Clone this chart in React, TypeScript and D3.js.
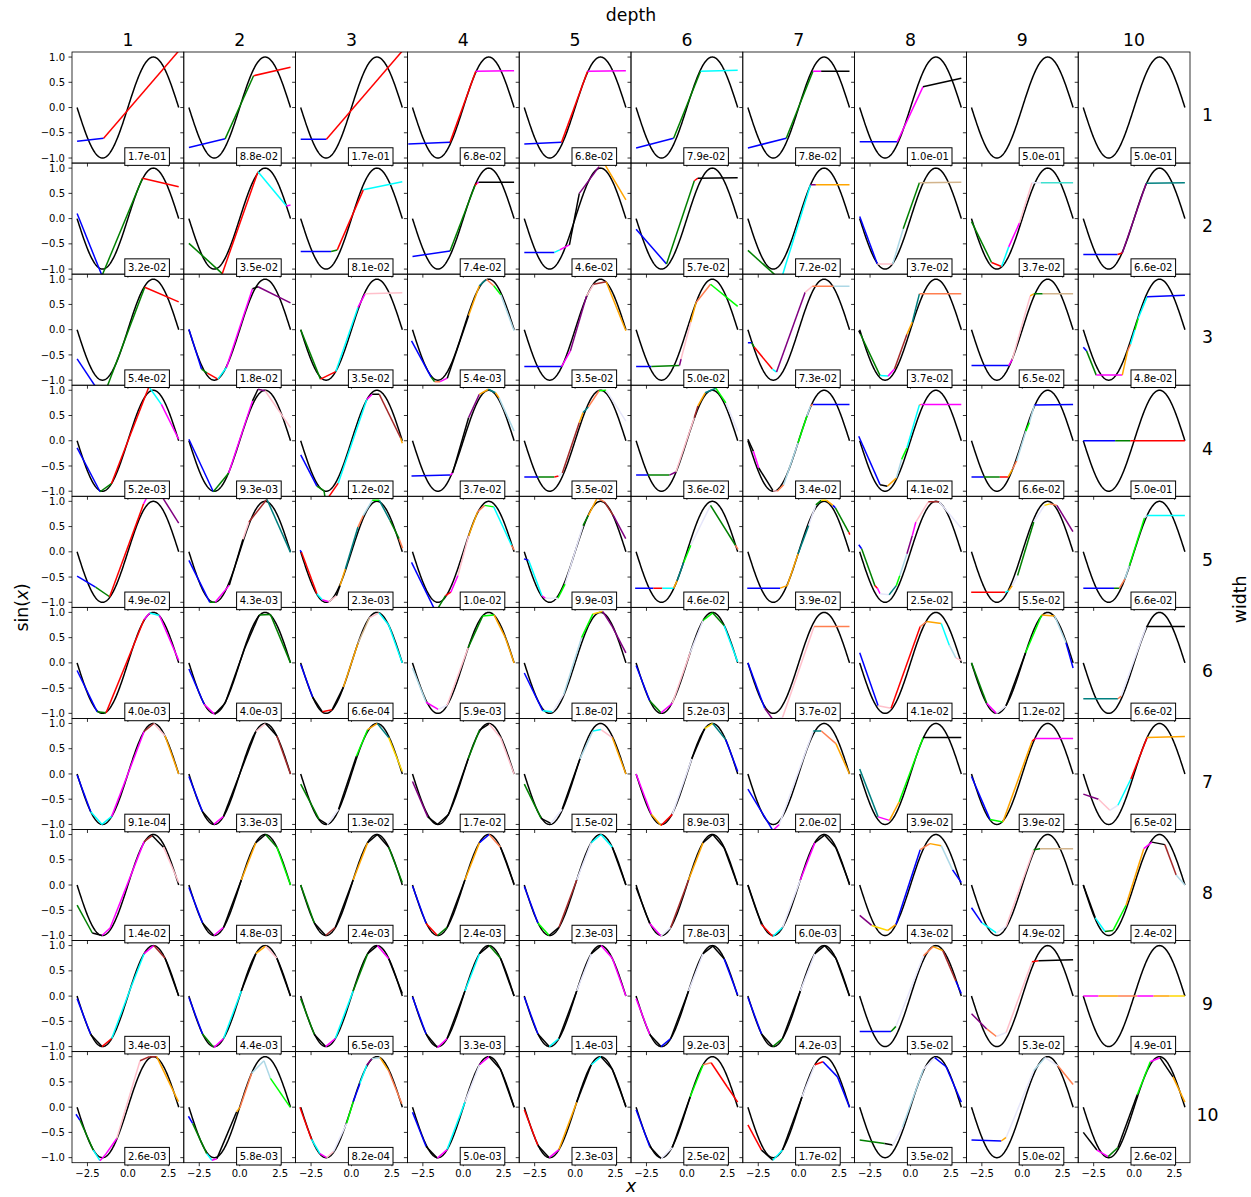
import React from 'react';
import * as d3 from 'd3';

// [segment colour codes, knots [x, y]] for one fitted network
type Fit = [string, number[][]];

const depthLabels = ['1', '2', '3', '4', '5', '6', '7', '8', '9', '10'];
const widthLabels = ['1', '2', '3', '4', '5', '6', '7', '8', '9', '10'];
const yTicks = [-1, -0.5, 0, 0.5, 1];
const xTicks = [-2.5, 0, 2.5];

// loss per cell, rows = width, columns = depth
const losses = [
  ['1.7e-01', '8.8e-02', '1.7e-01', '6.8e-02', '6.8e-02', '7.9e-02', '7.8e-02', '1.0e-01', '5.0e-01', '5.0e-01'],
  ['3.2e-02', '3.5e-02', '8.1e-02', '7.4e-02', '4.6e-02', '5.7e-02', '7.2e-02', '3.7e-02', '3.7e-02', '6.6e-02'],
  ['5.4e-02', '1.8e-02', '3.5e-02', '5.4e-03', '3.5e-02', '5.0e-02', '7.3e-02', '3.7e-02', '6.5e-02', '4.8e-02'],
  ['5.2e-03', '9.3e-03', '1.2e-02', '3.7e-02', '3.5e-02', '3.6e-02', '3.4e-02', '4.1e-02', '6.6e-02', '5.0e-01'],
  ['4.9e-02', '4.3e-03', '2.3e-03', '1.0e-02', '9.9e-03', '4.6e-02', '3.9e-02', '2.5e-02', '5.5e-02', '6.6e-02'],
  ['4.0e-03', '4.0e-03', '6.6e-04', '5.9e-03', '1.8e-02', '5.2e-03', '3.7e-02', '4.1e-02', '1.2e-02', '6.6e-02'],
  ['9.1e-04', '3.3e-03', '1.3e-02', '1.7e-02', '1.5e-02', '8.9e-03', '2.0e-02', '3.9e-02', '3.9e-02', '6.5e-02'],
  ['1.4e-02', '4.8e-03', '2.4e-03', '2.4e-03', '2.3e-03', '7.8e-03', '6.0e-03', '4.3e-02', '4.9e-02', '2.4e-02'],
  ['3.4e-03', '4.4e-03', '6.5e-03', '3.3e-03', '1.4e-03', '9.2e-03', '4.2e-03', '3.5e-02', '5.3e-02', '4.9e-01'],
  ['2.6e-03', '5.8e-03', '8.2e-04', '5.0e-03', '2.3e-03', '2.5e-02', '1.7e-02', '3.5e-02', '5.0e-02', '2.6e-02'],
];

const fitsW1: Fit[] = [
  ['br', [[-3.14, -0.67], [-1.5, -0.61], [3.14, 1.12]]],
  ['bgr', [[-3.14, -0.79], [-0.9, -0.62], [0.86, 0.63], [3.14, 0.8]]],
  ['br', [[-3.14, -0.63], [-1.55, -0.63], [3.14, 1.12]]],
  ['brm', [[-3.4, -0.72], [-0.82, -0.69], [0.77, 0.72], [3.14, 0.73]]],
  ['brm', [[-3.14, -0.72], [-0.84, -0.69], [0.77, 0.72], [3.14, 0.73]]],
  ['bgc', [[-3.14, -0.8], [-0.82, -0.61], [0.84, 0.72], [3.14, 0.74]]],
  ['bgmk', [[-3.14, -0.8], [-0.77, -0.61], [0.88, 0.72], [1.39, 0.72], [3.14, 0.72]]],
  ['bmk', [[-3.14, -0.68], [-0.82, -0.68], [0.77, 0.41], [3.14, 0.58]]],
  ['', []],
  ['', []],
];

const fitsW2: Fit[] = [
  ['bgr', [[-3.14, 0.1], [-1.6, -1.13], [0.9, 0.8], [3.14, 0.63]]],
  ['grcm', [[-3.14, -0.49], [-1.08, -1.09], [1.13, 0.93], [2.89, 0.25], [3.14, 0.27]]],
  ['bgrc', [[-3.14, -0.65], [-1.26, -0.65], [-0.88, -0.62], [0.73, 0.57], [3.14, 0.73]]],
  ['bgrmk', [[-3.14, -0.75], [-0.82, -0.64], [0.73, 0.66], [0.85, 0.7], [0.95, 0.72], [3.14, 0.72]]],
  ['bcmkupo', [[-3.14, -0.67], [-1.28, -0.67], [-0.95, -0.62], [-0.35, -0.52], [0.26, 0.5], [1.48, 1.03], [1.75, 1.12], [3.14, 0.37]]],
  ['bgrk', [[-3.14, -0.21], [-1.26, -0.9], [0.46, 0.75], [0.68, 0.8], [3.14, 0.81]]],
  ['gcuo', [[-3.14, -0.63], [-1.1, -1.22], [0.73, 0.67], [1.06, 0.67], [3.14, 0.67]]],
  ['bpagt', [[-3.14, 0.04], [-2.05, -0.9], [-1.1, -0.9], [-0.45, -0.2], [0.55, 0.71], [3.14, 0.72]]],
  ['grcmpvd', [[-3.14, -0.06], [-1.9, -0.87], [-1.28, -0.95], [-0.84, -0.56], [-0.18, -0.09], [0.6, 0.71], [1.15, 0.71], [3.14, 0.71]]],
  ['brue', [[-3.14, -0.71], [-1.02, -0.71], [-0.73, -0.68], [0.75, 0.7], [3.14, 0.71]]],
];

const fitsW3: Fit[] = [
  ['bgr', [[-3.14, -0.58], [-1.54, -1.35], [1.04, 0.84], [3.14, 0.55]]],
  ['bgrcmku', [[-3.14, 0.01], [-2.36, -0.78], [-2.0, -0.86], [-1.35, -0.98], [-0.82, -0.75], [0.79, 0.81], [1.13, 0.85], [3.14, 0.53]]],
  ['grcmp', [[-3.14, 0], [-1.92, -0.98], [-0.97, -0.83], [0.4, 0.44], [0.84, 0.71], [3.14, 0.73]]],
  ['bgsmkoesla', [[-3.2, -0.22], [-1.99, -0.94], [-1.77, -1.03], [-1.43, -1.03], [-0.99, -0.96], [0.33, 0.28], [0.99, 0.87], [1.43, 1.0], [1.88, 0.87], [2.32, 0.69], [3.14, -0.02]]],
  ['bmupno', [[-3.14, -0.73], [-0.84, -0.73], [-0.29, -0.42], [0.71, 0.67], [1.15, 0.9], [1.92, 0.95], [3.14, -0.02]]],
  ['bguposl', [[-3.14, -0.73], [-2.2, -0.73], [-0.46, -0.71], [-0.36, -0.58], [0.24, 0.15], [0.57, 0.54], [1.46, 0.9], [3.14, 0.46]]],
  ['bgrcupsa', [[-3.14, -0.26], [-2.91, -0.26], [-2.74, -0.35], [-1.63, -0.78], [-1.37, -0.84], [0.4, 0.74], [0.84, 0.86], [2.16, 0.86], [3.14, 0.86]]],
  ['kgcmnoes', [[-3.2, -0.02], [-3.09, -0.09], [-1.88, -0.91], [-1.39, -0.92], [-0.99, -0.78], [-0.22, -0.09], [0.11, 0.15], [0.55, 0.71], [3.14, 0.71]]],
  ['bmpogt', [[-3.14, -0.71], [-0.84, -0.71], [-0.62, -0.59], [0.49, 0.67], [0.71, 0.71], [1.26, 0.71], [3.14, 0.71]]],
  ['bgmosclcb', [[-3.14, -0.35], [-2.94, -0.42], [-2.34, -0.9], [-0.73, -0.9], [-0.4, -0.42], [-0.22, -0.29], [0.05, 0], [0.25, 0.22], [0.8, 0.65], [3.14, 0.68]]],
];

const fitsW4: Fit[] = [
  ['bgrcm', [[-3.14, -0.14], [-1.72, -1.01], [-1.02, -0.85], [1.3, 1.07], [2.07, 0.72], [3.14, 0.03]]],
  ['bgmkup', [[-3.14, 0.03], [-1.63, -1.01], [-0.68, -0.64], [0.79, 0.79], [1.13, 1.02], [1.57, 0.99], [3.14, 0.26]]],
  ['bggrcmkno', [[-3.14, -0.28], [-2.14, -0.9], [-1.7, -0.99], [-1.6, -1.2], [-0.82, -0.84], [0.95, 0.82], [1.28, 0.92], [1.72, 0.92], [3.03, 0.06], [3.14, -0.05]]],
  ['bmkuoeoa', [[-3.2, -0.7], [-0.82, -0.68], [-0.66, -0.64], [0.33, 0.46], [0.99, 0.92], [1.55, 1.02], [1.99, 0.95], [2.21, 0.85], [3.14, 0.19]]],
  ['bgrvnoeslv', [[-3.14, -0.72], [-2.27, -0.72], [-1.28, -0.72], [-1.02, -0.7], [-0.79, -0.64], [0.26, 0.36], [0.49, 0.56], [0.82, 0.67], [1.48, 0.99], [1.92, 1.0], [3.14, 0.39]]],
  ['bgupnoelv', [[-3.14, -0.68], [-2.41, -0.68], [-1.08, -0.68], [-0.68, -0.62], [0.46, 0.46], [0.68, 0.69], [1.13, 0.95], [1.79, 1.04], [2.41, 0.75], [3.14, 0.19]]],
  ['kmkpsalasb', [[-3.14, 0.03], [-2.8, -0.21], [-2.47, -0.54], [-1.59, -0.99], [-1.32, -1.0], [-0.93, -0.87], [-0.04, -0.04], [0.51, 0.49], [0.73, 0.69], [0.88, 0.72], [3.14, 0.72]]],
  ['bkoalcsm', [[-3.2, 0.09], [-1.88, -0.87], [-1.43, -0.9], [-0.88, -0.74], [-0.55, -0.37], [-0.22, -0.14], [0.55, 0.71], [0.66, 0.72], [3.14, 0.72]]],
  ['bgrosalab', [[-3.14, -0.72], [-2.38, -0.72], [-1.39, -0.72], [-0.88, -0.72], [-0.62, -0.57], [-0.35, -0.4], [0.22, 0.19], [0.44, 0.36], [0.75, 0.71], [3.14, 0.72]]],
  ['bgr', [[-3.14, 0], [-1.17, 0], [-0.24, 0], [3.14, 0]]],
];

const fitsW5: Fit[] = [
  ['bgrmu', [[-3.14, -0.48], [-2.0, -0.7], [-1.13, -0.89], [0.97, 0.95], [1.6, 1.35], [3.14, 0.57]]],
  ['bgmkpne', [[-3.14, -0.17], [-1.85, -1.0], [-1.52, -1.0], [-0.64, -0.66], [0.2, 0.25], [0.57, 0.59], [1.68, 1.04], [3.14, -0.01]]],
  ['brcmpkoesalegs', [[-3.18, 0.03], [-3.09, -0.01], [-2.14, -0.83], [-1.81, -0.95], [-1.41, -0.99], [-0.93, -0.87], [-0.71, -0.67], [-0.38, -0.34], [0.4, 0.49], [0.73, 0.72], [1.28, 1.02], [1.72, 1.02], [2.38, 0.62], [2.94, 0.26], [3.16, 0.07]]],
  ['bgrmposlcs', [[-3.2, -0.21], [-1.7, -1.19], [-1.1, -0.87], [-0.77, -0.8], [-0.33, -0.47], [0.33, 0.32], [0.88, 0.79], [1.32, 0.92], [1.88, 0.89], [2.98, 0.13], [3.14, 0.04]]],
  ['bcmvlvgosnu', [[-3.16, -0.14], [-2.87, -0.17], [-2.05, -0.87], [-1.83, -0.92], [-1.06, -0.92], [-0.62, -0.64], [0.49, 0.52], [0.82, 0.72], [1.37, 1.07], [1.81, 0.99], [2.36, 0.72], [3.13, 0.26]]],
  ['brcoelvgs', [[-3.2, -0.72], [-2.07, -0.72], [-1.52, -0.72], [-0.82, -0.72], [-0.6, -0.57], [-0.2, -0.21], [0.24, 0.13], [1.46, 0.92], [3.0, 0.13], [3.16, 0.05]]],
  ['booevgyobgr', [[-3.18, -0.72], [-1.15, -0.72], [-0.71, -0.67], [-0.04, -0.04], [0.62, 0.52], [1.06, 0.93], [1.39, 1.02], [1.72, 1.02], [2.12, 0.92], [2.27, 0.87], [3.09, 0.39], [3.16, 0.34]]],
  ['bgrmvelaumpnv', [[-3.2, 0.14], [-3.02, 0.06], [-2.2, -0.67], [-2.05, -0.72], [-1.88, -0.83], [-1.32, -0.85], [-0.88, -0.67], [-0.66, -0.47], [-0.22, -0.04], [0.11, 0.32], [0.33, 0.59], [1.1, 0.99], [1.77, 0.99], [3.16, 0.46]]],
  ['rcovgvysu', [[-3.16, -0.8], [-1.06, -0.8], [-0.84, -0.77], [-0.62, -0.67], [-0.29, -0.47], [0.71, 0.59], [1.37, 0.92], [1.7, 0.95], [2.14, 0.92], [3.13, 0.4]]],
  ['bgsalac', [[-3.14, -0.72], [-1.24, -0.72], [-0.91, -0.72], [-0.57, -0.54], [-0.29, -0.27], [0.64, 0.67], [0.82, 0.72], [3.14, 0.72]]],
];

const fitsW6: Fit[] = [
  ['bgrmcm', [[-3.14, -0.15], [-1.9, -0.97], [-1.35, -0.99], [1.0, 0.86], [1.35, 0.99], [1.95, 0.94], [3.14, 0.05]]],
  ['bmkkkgg', [[-3.14, -0.12], [-2.2, -0.82], [-1.55, -1.02], [-0.9, -0.8], [0.3, 0.28], [1.2, 0.95], [1.9, 0.96], [3.14, 0.0]]],
  ['bkrkotpcc', [[-3.14, -0.03], [-2.4, -0.68], [-1.8, -0.97], [-1.2, -0.93], [-0.5, -0.48], [0.4, 0.39], [1.1, 0.89], [1.7, 0.99], [2.3, 0.75], [3.14, 0.0]]],
  ['amvpgloo', [[-3.14, -0.1], [-2.3, -0.78], [-1.55, -0.92], [-1.0, -0.84], [0.3, 0.3], [1.2, 0.93], [1.9, 0.95], [2.6, 0.5], [3.14, 0.0]]],
  ['bcvalyuu', [[-3.14, -0.2], [-2.0, -0.95], [-1.4, -0.97], [-0.7, -0.62], [0.4, 0.5], [1.1, 0.97], [1.7, 1.02], [2.3, 0.72], [3.14, 0.2]]],
  ['bgmpvlgc', [[-3.14, -0.05], [-2.3, -0.75], [-1.6, -0.99], [-0.9, -0.8], [0.2, 0.2], [1.0, 0.84], [1.6, 0.99], [2.3, 0.74], [3.14, 0.02]]],
  ['buvps', [[-3.14, 0.0], [-2.1, -0.9], [-1.6, -1.12], [-1.0, -1.08], [0.95, 0.72], [3.14, 0.72]]],
  ['bprsocap', [[-3.14, 0.2], [-2.0, -0.85], [-1.2, -0.9], [0.6, 0.72], [1.0, 0.82], [1.9, 0.78], [2.4, 0.35], [2.8, 0.1], [3.14, 0.05]]],
  ['gmvkloab', [[-3.14, 0.0], [-2.2, -0.8], [-1.6, -1.0], [-1.0, -0.85], [0.2, 0.2], [1.2, 0.95], [2.0, 0.93], [2.7, 0.4], [3.14, -0.1]]],
  ['esvk', [[-3.14, -0.71], [-1.0, -0.71], [-0.8, -0.66], [0.75, 0.72], [3.14, 0.72]]],
];

const fitsW7: Fit[] = [
  ['bccmnpo', [[-3.14, -0.02], [-2.3, -0.75], [-1.6, -1.0], [-1.0, -0.84], [1.0, 0.84], [1.6, 1.0], [2.3, 0.75], [3.14, 0.0]]],
  ['bkmkkpkn', [[-3.14, -0.05], [-2.3, -0.75], [-1.6, -1.0], [-1.0, -0.84], [0.0, 0.0], [1.0, 0.84], [1.6, 1.0], [2.3, 0.75], [3.14, 0.0]]],
  ['gkvkloey', [[-3.14, -0.2], [-2.0, -0.9], [-1.5, -1.0], [-0.8, -0.7], [0.3, 0.35], [1.0, 0.88], [1.6, 1.0], [2.3, 0.72], [3.14, 0.05]]],
  ['ukkkgkpp', [[-3.14, -0.15], [-2.2, -0.85], [-1.6, -1.0], [-0.9, -0.8], [0.3, 0.3], [1.0, 0.87], [1.6, 0.99], [2.3, 0.72], [3.14, 0.0]]],
  ['gkvkacpo', [[-3.14, -0.2], [-2.1, -0.88], [-1.5, -0.98], [-0.8, -0.7], [0.3, 0.3], [1.1, 0.85], [1.6, 0.88], [2.3, 0.72], [3.14, 0.0]]],
  ['morvkyeb', [[-3.14, 0.0], [-2.2, -0.8], [-1.6, -1.02], [-0.9, -0.8], [0.3, 0.3], [1.1, 0.9], [1.6, 1.0], [2.4, 0.68], [3.14, 0.05]]],
  ['bmveso', [[-3.14, -0.3], [-1.6, -1.12], [-1.2, -1.0], [0.9, 0.85], [1.4, 0.85], [2.3, 0.6], [3.14, 0.0]]],
  ['emolk', [[-3.14, 0.1], [-2.0, -0.85], [-1.3, -0.92], [-0.7, -0.55], [0.78, 0.72], [3.14, 0.72]]],
  ['blorm', [[-3.14, -0.05], [-2.0, -0.9], [-1.2, -0.95], [0.6, 0.65], [0.8, 0.7], [3.14, 0.7]]],
  ['upvcro', [[-3.14, -0.4], [-2.2, -0.5], [-1.5, -0.72], [-1.0, -0.62], [-0.2, -0.1], [0.8, 0.72], [3.14, 0.74]]],
];

const fitsW8: Fit[] = [
  ['gkmmnkp', [[-3.14, -0.4], [-2.2, -0.95], [-1.6, -1.0], [-1.1, -0.85], [1.0, 0.86], [1.5, 0.98], [2.2, 0.75], [3.14, 0.05]]],
  ['bkmkokgl', [[-3.14, -0.05], [-2.3, -0.75], [-1.6, -1.0], [-1.0, -0.84], [0.1, 0.1], [1.0, 0.84], [1.6, 1.0], [2.3, 0.75], [3.14, 0.0]]],
  ['gknkokkg', [[-3.14, 0.0], [-2.3, -0.75], [-1.6, -1.0], [-1.0, -0.84], [0.1, 0.1], [1.0, 0.84], [1.6, 1.0], [2.3, 0.75], [3.14, 0.05]]],
  ['brgkobsk', [[-3.14, -0.02], [-2.3, -0.76], [-1.6, -1.0], [-1.0, -0.84], [0.1, 0.1], [1.0, 0.84], [1.6, 1.0], [2.3, 0.75], [3.14, 0.02]]],
  ['blknvcck', [[-3.14, -0.03], [-2.3, -0.75], [-1.6, -1.0], [-1.0, -0.84], [0.1, 0.1], [1.0, 0.84], [1.6, 1.0], [2.3, 0.75], [3.14, 0.0]]],
  ['kmvnokkk', [[-3.14, -0.05], [-2.3, -0.76], [-1.6, -1.01], [-1.0, -0.84], [0.1, 0.1], [1.0, 0.84], [1.6, 1.0], [2.3, 0.74], [3.14, 0.0]]],
  ['krcvmkkk', [[-3.14, 0.0], [-2.3, -0.78], [-1.6, -1.02], [-1.0, -0.84], [0.1, 0.1], [1.0, 0.84], [1.6, 0.99], [2.3, 0.74], [3.14, 0.03]]],
  ['uyobsoab', [[-3.14, -0.6], [-2.4, -0.8], [-1.4, -0.9], [-0.9, -0.78], [0.6, 0.7], [1.2, 0.82], [1.9, 0.78], [2.6, 0.3], [3.14, 0.05]]],
  ['bcvpgt', [[-3.14, -0.45], [-2.5, -0.75], [-1.6, -0.95], [-1.0, -0.82], [0.7, 0.7], [1.1, 0.72], [3.14, 0.72]]],
  ['kcglomkna', [[-3.14, 0.0], [-2.4, -0.65], [-1.8, -0.92], [-1.3, -0.9], [-0.5, -0.4], [0.6, 0.72], [1.1, 0.85], [1.9, 0.8], [2.6, 0.2], [3.14, 0.0]]],
];

const fitsW9: Fit[] = [
  ['bkrccmnk', [[-3.14, -0.05], [-2.3, -0.76], [-1.6, -1.0], [-1.0, -0.84], [0.1, 0.1], [1.0, 0.84], [1.6, 1.0], [2.3, 0.75], [3.14, 0.0]]],
  ['bgmckopk', [[-3.14, -0.03], [-2.3, -0.75], [-1.6, -1.02], [-1.0, -0.84], [0.1, 0.1], [1.0, 0.84], [1.6, 0.99], [2.3, 0.75], [3.14, 0.0]]],
  ['gkmcgkmk', [[-3.14, -0.05], [-2.3, -0.76], [-1.6, -1.0], [-1.0, -0.84], [0.1, 0.1], [1.0, 0.84], [1.6, 1.0], [2.3, 0.74], [3.14, 0.05]]],
  ['bkmkckgk', [[-3.14, -0.02], [-2.3, -0.75], [-1.6, -1.02], [-1.0, -0.84], [0.1, 0.1], [1.0, 0.84], [1.6, 1.0], [2.3, 0.75], [3.14, 0.0]]],
  ['bkckvkmm', [[-3.14, -0.02], [-2.3, -0.75], [-1.6, -1.0], [-1.0, -0.84], [0.1, 0.1], [1.0, 0.84], [1.6, 1.0], [2.3, 0.75], [3.14, 0.0]]],
  ['mkbkvkkb', [[-3.14, -0.05], [-2.3, -0.76], [-1.6, -1.0], [-1.0, -0.84], [0.1, 0.1], [1.0, 0.84], [1.6, 0.99], [2.3, 0.74], [3.14, 0.02]]],
  ['bkgkvkkk', [[-3.14, -0.03], [-2.3, -0.75], [-1.6, -1.0], [-1.0, -0.84], [0.1, 0.1], [1.0, 0.84], [1.6, 1.0], [2.3, 0.75], [3.14, 0.0]]],
  ['bgvsonb', [[-3.14, -0.7], [-1.2, -0.7], [-0.9, -0.6], [0.8, 0.8], [1.4, 0.98], [2.0, 0.9], [2.8, 0.3], [3.14, 0.05]]],
  ['usvprk', [[-3.14, -0.35], [-2.2, -0.65], [-1.6, -0.8], [-1.0, -0.72], [0.6, 0.68], [1.0, 0.7], [3.14, 0.72]]],
  ['mosmoy', [[-3.14, 0], [-2.2, 0], [-1.0, 0], [0.2, 0], [1.2, 0], [2.2, 0], [3.14, 0]]],
];

const fitsW10: Fit[] = [
  ['bgcmmpnno', [[-3.21, -0.14], [-2.96, -0.26], [-2.14, -0.85], [-1.73, -1.06], [-1.41, -0.95], [-0.69, -0.62], [0.75, 0.92], [1.33, 1.0], [1.78, 1.0], [3.12, 0.11]]],
  ['bgcmkosaal', [[-3.17, -0.18], [-2.91, -0.32], [-2.04, -0.92], [-1.72, -1.05], [-1.41, -1.02], [-0.19, -0.09], [0.02, 0.0], [0.74, 0.67], [1.5, 0.92], [1.9, 0.57], [3.12, 0.0]]],
  ['rcmpvlbcuaos', [[-3.19, 0.0], [-2.47, -0.64], [-1.95, -0.92], [-1.54, -1.0], [-1.12, -0.88], [-0.3, -0.32], [0.11, 0.11], [0.52, 0.47], [0.94, 0.83], [1.25, 0.96], [1.76, 0.98], [2.28, 0.73], [3.11, 0.07]]],
  ['bkmcvmkk', [[-3.14, -0.1], [-2.3, -0.78], [-1.6, -1.01], [-1.0, -0.84], [0.1, 0.1], [1.0, 0.84], [1.6, 1.0], [2.3, 0.75], [3.14, 0.0]]],
  ['rkmokckk', [[-3.14, -0.05], [-2.3, -0.76], [-1.6, -1.0], [-1.0, -0.84], [0.1, 0.1], [1.0, 0.84], [1.6, 1.0], [2.3, 0.75], [3.14, 0.02]]],
  ['bkvklsrr', [[-3.14, -0.05], [-2.3, -0.78], [-1.6, -1.02], [-0.9, -0.8], [0.2, 0.2], [1.0, 0.84], [1.5, 0.88], [2.5, 0.4], [3.14, 0.1]]],
  ['rkckvrbb', [[-3.14, -0.35], [-2.3, -0.85], [-1.6, -1.05], [-1.0, -0.85], [0.2, 0.2], [1.0, 0.84], [1.5, 0.9], [2.4, 0.6], [3.14, 0.0]]],
  ['gkvavbb', [[-3.14, -0.65], [-1.6, -0.72], [-1.1, -0.75], [-0.5, -0.4], [0.8, 0.75], [1.5, 0.98], [2.2, 0.8], [3.14, 0.1]]],
  ['bovavs', [[-3.14, -0.65], [-1.3, -0.67], [-1.0, -0.6], [0.7, 0.72], [1.4, 0.98], [2.2, 0.82], [3.14, 0.45]]],
  ['kmgklmko', [[-3.14, -0.5], [-2.3, -0.85], [-1.6, -0.98], [-1.0, -0.8], [0.2, 0.25], [1.0, 0.9], [1.6, 0.98], [2.4, 0.6], [3.14, 0.1]]],
];

const fitRows = [fitsW1, fitsW2, fitsW3, fitsW4, fitsW5, fitsW6, fitsW7, fitsW8, fitsW9, fitsW10];

const palette: Record<string, string> = {
  b: '#0000ff', g: '#008000', r: '#ff0000', c: '#00ffff', m: '#ff00ff', k: '#000000',
  o: '#ffa500', p: '#ffc0cb', u: '#800080', l: '#00ff00', n: '#a52a2a', s: '#ff7f50',
  t: '#d2b48c', e: '#008080', v: '#e6e6fa', a: '#add8e6', y: '#ffd700', d: '#40e0d0',
};

const W = 1251;
const H = 1197;
const gridLeft = 72;
const gridTop = 52;
const cellW = 111.8;
const cellH = 111.07;
const font = 'DejaVu Sans';

const x = d3.scaleLinear().domain([-1.1 * Math.PI, 1.1 * Math.PI]).range([0, cellW]);
const y = d3.scaleLinear().domain([-1.1, 1.1]).range([cellH, 0]);
const fmt = (v: number) => d3.format('.1f')(v).replace('-', '\u2212');

// target function drawn in black in every panel
const sineXs = d3.range(0, 241).map((i) => -Math.PI + (i * 2 * Math.PI) / 240);
const sinePath = d3.line<number>().x((d) => x(d)).y((d) => y(Math.sin(d)))(sineXs) || '';

function Cell({ fit, row, col }: { fit: Fit; row: number; col: number }) {
  const [colors, pts] = fit;
  const segs = pts.slice(1).map((p, i) => ({ a: pts[i], b: p, c: palette[colors[i]] || '#000' }));
  return (
    <g transform={`translate(${gridLeft + col * cellW},${gridTop + row * cellH})`}>
      <g clipPath="url(#cellClip)">
        <path d={sinePath} fill="none" stroke="#000" strokeWidth={1.5} />
        {segs.map((s, i) => (
          <line key={i} x1={x(s.a[0])} y1={y(s.a[1])} x2={x(s.b[0])} y2={y(s.b[1])}
            stroke={s.c} strokeWidth={1.5} strokeLinecap="butt" />
        ))}
      </g>
      <rect width={cellW} height={cellH} fill="none" stroke="#000" strokeWidth={0.8} />
      {yTicks.map((t) => (
        <line key={'y' + t} x1={-3.5} x2={0} y1={y(t)} y2={y(t)} stroke="#000" strokeWidth={0.8} />
      ))}
      {xTicks.map((t) => (
        <line key={'x' + t} x1={x(t)} x2={x(t)} y1={cellH} y2={cellH + 3.5} stroke="#000" strokeWidth={0.8} />
      ))}
      {col === 0 && yTicks.map((t) => (
        <text key={'yl' + t} x={-7} y={y(t) + 3.6} textAnchor="end" fontSize={10} fontFamily={font}>{fmt(t)}</text>
      ))}
      {row === 9 && xTicks.map((t) => (
        <text key={'xl' + t} x={x(t)} y={cellH + 14.8} textAnchor="middle" fontSize={10} fontFamily={font}>{fmt(t)}</text>
      ))}
    </g>
  );
}

function LossBox({ loss, row, col }: { loss: string; row: number; col: number }) {
  const left = gridLeft + col * cellW;
  const bottom = gridTop + (row + 1) * cellH;
  return (
    <g>
      <rect x={left + 52.8} y={bottom - 15.3} width={44.6} height={17.6} fill="#fff" stroke="#000" strokeWidth={1} />
      <text x={left + 75.1} y={bottom - 3.1} textAnchor="middle" fontSize={10} fontFamily={font}>{loss}</text>
    </g>
  );
}

export default function App() {
  const midX = gridLeft + 5 * cellW;
  const midY = gridTop + 5 * cellH;
  return (
    <svg width={W} height={H} style={{ position: 'absolute', left: 0, top: 0, background: '#fff' }}>
      <defs>
        <clipPath id="cellClip">
          <rect width={cellW} height={cellH} />
        </clipPath>
      </defs>
      <rect width={W} height={H} fill="#fff" />
      {fitRows.map((row, r) => row.map((fit, c) => <Cell key={`${r}-${c}`} fit={fit} row={r} col={c} />))}
      {losses.map((row, r) => row.map((l, c) => <LossBox key={`l${r}-${c}`} loss={l} row={r} col={c} />))}
      {depthLabels.map((d, c) => (
        <text key={'d' + d} x={gridLeft + (c + 0.5) * cellW} y={gridTop - 6} textAnchor="middle" fontSize={17.28} fontFamily={font}>{d}</text>
      ))}
      {widthLabels.map((w, r) => (
        <text key={'w' + w} x={1207.5} y={gridTop + (r + 0.5) * cellH + 13.8} textAnchor="middle" fontSize={17.28} fontFamily={font}>{w}</text>
      ))}
      <text x={midX} y={21} textAnchor="middle" fontSize={17.28} fontFamily={font}>depth</text>
      <text transform={`translate(1246,${midY - 8}) rotate(-90)`} textAnchor="middle" fontSize={17.28} fontFamily={font}>width</text>
      <text transform={`translate(28,${midY}) rotate(-90)`} textAnchor="middle" fontSize={17.28} fontFamily={font}>
        sin(<tspan fontStyle="italic">x</tspan>)
      </text>
      <text x={midX} y={1192} textAnchor="middle" fontSize={17.28} fontFamily={font} fontStyle="italic">x</text>
    </svg>
  );
}
